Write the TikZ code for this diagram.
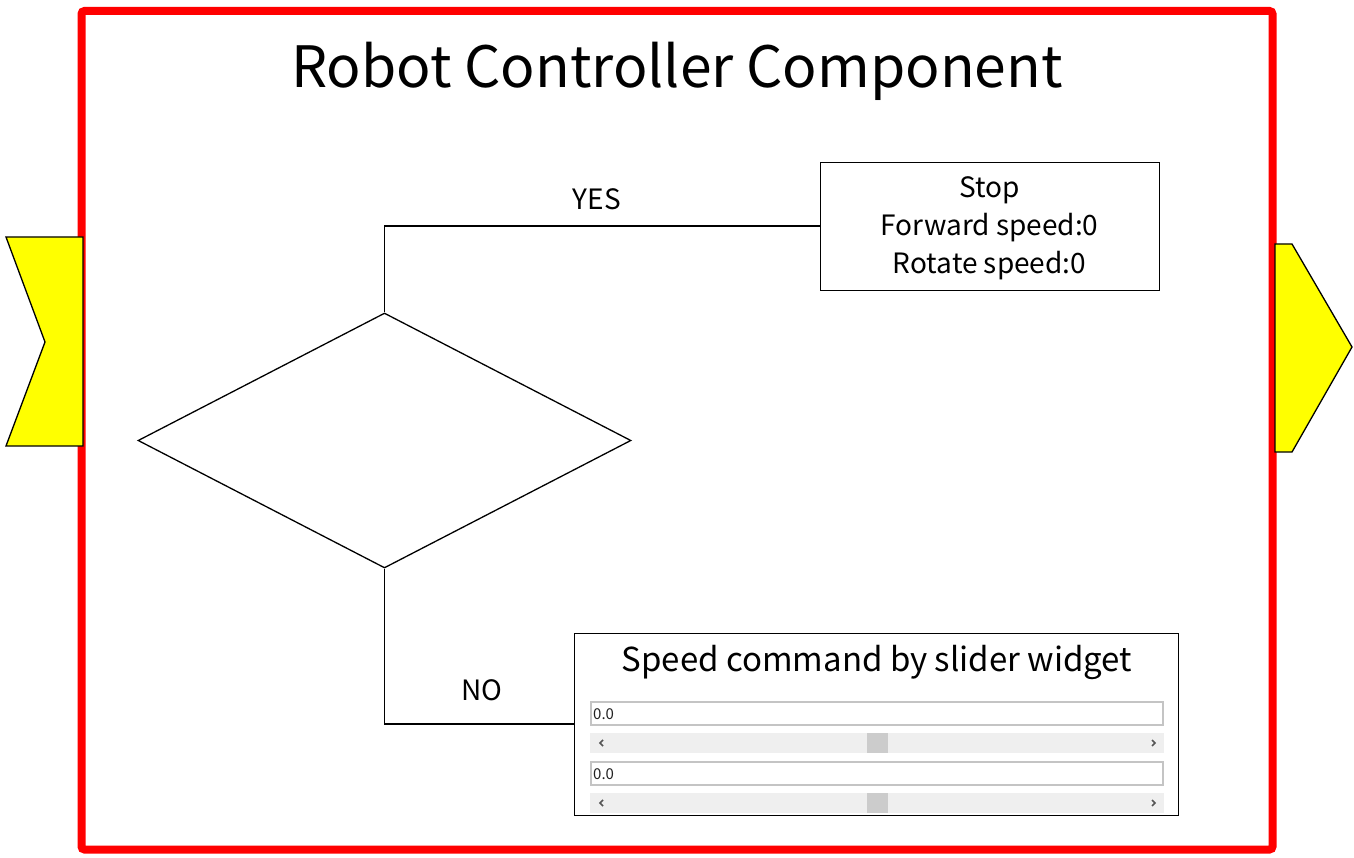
\documentclass[tikz,border=0pt]{standalone}
\usepackage{fontspec}
\setmainfont{Noto Sans CJK JP}
\usetikzlibrary{shapes.geometric}
\definecolor{portyellow}{HTML}{FFFF00}
\definecolor{framered}{HTML}{FF0000}
\definecolor{fieldborder}{HTML}{C4C4C4}
\definecolor{tracks}{HTML}{EFEFEF}
\definecolor{thumbgray}{HTML}{CCCCCC}
\definecolor{valtext}{HTML}{222222}
\definecolor{arrowgray}{HTML}{555555}
\tikzset{
  frame/.style={draw=framered, line width=8pt, rounded corners=3pt},
  port/.style={draw=black, line width=1.3pt, fill=portyellow},
  flowline/.style={draw=black, line width=1.3pt},
  decision/.style={diamond, draw=black, line width=1.3pt, minimum width=493pt,
    minimum height=255pt, inner sep=0pt},
  actionbox/.style={rectangle, draw=black, line width=0.9pt, inner sep=0pt},
  label/.style={font=\fontsize{28}{38}\selectfont, inner sep=0pt},
  field/.style={draw=fieldborder, line width=1.2pt, fill=white},
  sliderbar/.style={fill=tracks},
  thumb/.style={fill=thumbgray},
  value/.style={font=\fontsize{15}{15}\selectfont, text=valtext, anchor=west, inner sep=0pt},
  chevron/.style={draw=arrowgray, line width=1.6pt}
}
\begin{document}
\begin{tikzpicture}[x=1pt, y=-1pt]
\useasboundingbox (0,0) rectangle (1354,858);

% component frame
\draw[frame] (81.5,11) rectangle (1272.5,849.5);

% input and output ports
\draw[port] (6,237) -- (83,237) -- (83,446) -- (6,446) -- (45,342) -- cycle;
\draw[port] (1275,244) -- (1292,244) -- (1352,347) -- (1292,452) -- (1275,452) -- cycle;

% title
\node[font=\fontsize{57}{57}\selectfont, inner sep=0pt] (title) at (677,71) {Robot Controller Component};

% decision and its branches
\node[decision] (dec) at (384.5,440.5) {};
\node[actionbox, minimum width=339pt, minimum height=128pt] (stop) at (989.5,226) {};
\node[label, align=center] (stoptext) at (989.5,228)
  {Stop\\Forward speed:0\\Rotate speed:0};
\node[actionbox, minimum width=604pt, minimum height=182pt] (wid) at (876,724) {};

\draw[flowline] (dec.north) |- (stop.west);
\draw[flowline] (dec.south) |- (wid.west);
\node[label] (yes) at (597,199) {YES};
\node[label] (no) at (482,690) {NO};

% slider widget contents
\node[font=\fontsize{33}{33}\selectfont, inner sep=0pt] (widtitle) at (877,662) {Speed command by slider widget};

\draw[field] (591,702) rectangle (1163,725);
\node[value] (val1) at (593,714) {0.0};
\fill[sliderbar] (590,733) rectangle (1164,753);
\fill[thumb] (867,733) rectangle (888,753);
\draw[chevron] (603,740) -- (600,743) -- (603,746);
\draw[chevron] (1152,740) -- (1155,743) -- (1152,746);

\draw[field] (591,762) rectangle (1163,785);
\node[value] (val2) at (593,774) {0.0};
\fill[sliderbar] (590,793) rectangle (1164,813);
\fill[thumb] (867,793) rectangle (888,813);
\draw[chevron] (603,800) -- (600,803) -- (603,806);
\draw[chevron] (1152,800) -- (1155,803) -- (1152,806);
\end{tikzpicture}
\end{document}
